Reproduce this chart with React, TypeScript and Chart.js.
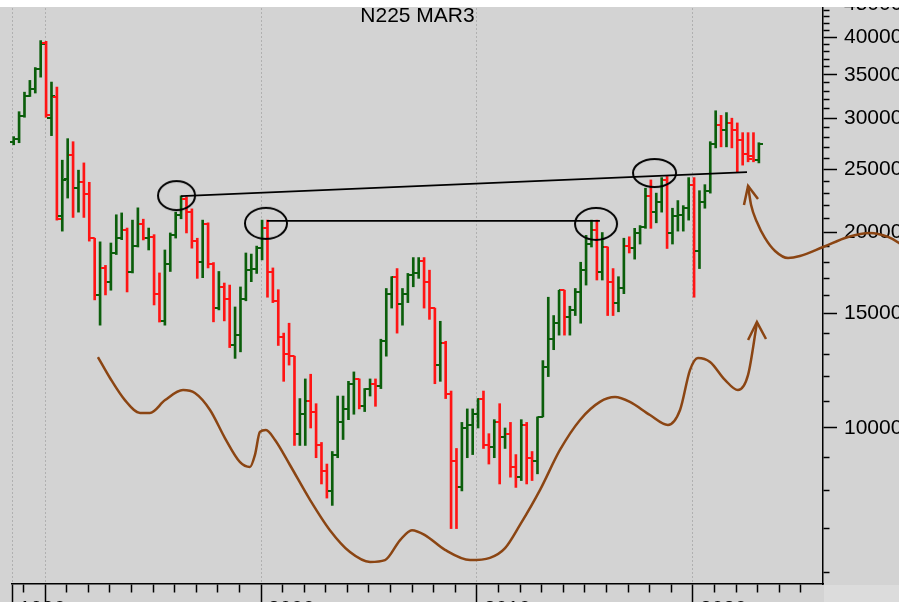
import React, { useEffect, useRef } from 'react';
import { Chart, registerables } from 'chart.js';

Chart.register(...registerables);

// ---------- DATA ----------
const TITLE = 'N225 MAR3';

const quarters = [
  '1988Q3', '1988Q4',
  '1989Q1', '1989Q2', '1989Q3', '1989Q4',
  '1990Q1', '1990Q2', '1990Q3', '1990Q4',
  '1991Q1', '1991Q2', '1991Q3', '1991Q4',
  '1992Q1', '1992Q2', '1992Q3', '1992Q4',
  '1993Q1', '1993Q2', '1993Q3', '1993Q4',
  '1994Q1', '1994Q2', '1994Q3', '1994Q4',
  '1995Q1', '1995Q2', '1995Q3', '1995Q4',
  '1996Q1', '1996Q2', '1996Q3', '1996Q4',
  '1997Q1', '1997Q2', '1997Q3', '1997Q4',
  '1998Q1', '1998Q2', '1998Q3', '1998Q4',
  '1999Q1', '1999Q2', '1999Q3', '1999Q4',
  '2000Q1', '2000Q2', '2000Q3', '2000Q4',
  '2001Q1', '2001Q2', '2001Q3', '2001Q4',
  '2002Q1', '2002Q2', '2002Q3', '2002Q4',
  '2003Q1', '2003Q2', '2003Q3', '2003Q4',
  '2004Q1', '2004Q2', '2004Q3', '2004Q4',
  '2005Q1', '2005Q2', '2005Q3', '2005Q4',
  '2006Q1', '2006Q2', '2006Q3', '2006Q4',
  '2007Q1', '2007Q2', '2007Q3', '2007Q4',
  '2008Q1', '2008Q2', '2008Q3', '2008Q4',
  '2009Q1', '2009Q2', '2009Q3', '2009Q4',
  '2010Q1', '2010Q2', '2010Q3', '2010Q4',
  '2011Q1', '2011Q2', '2011Q3', '2011Q4',
  '2012Q1', '2012Q2', '2012Q3', '2012Q4',
  '2013Q1', '2013Q2', '2013Q3', '2013Q4',
  '2014Q1', '2014Q2', '2014Q3', '2014Q4',
  '2015Q1', '2015Q2', '2015Q3', '2015Q4',
  '2016Q1', '2016Q2', '2016Q3', '2016Q4',
  '2017Q1', '2017Q2', '2017Q3', '2017Q4',
  '2018Q1', '2018Q2', '2018Q3', '2018Q4',
  '2019Q1', '2019Q2', '2019Q3', '2019Q4',
  '2020Q1', '2020Q2', '2020Q3', '2020Q4',
  '2021Q1', '2021Q2', '2021Q3', '2021Q4',
  '2022Q1', '2022Q2', '2022Q3', '2022Q4',
  '2023Q1',
];

const opens = [
  27600, 27900,
  30200, 32500, 33300, 35700,
  39200, 30000, 32300, 21200,
  24200, 26300, 23400, 23900,
  22900, 19600, 16000, 17640,
  16800, 18600, 19600, 20200,
  17400, 19100, 20600, 19600,
  19700, 16100, 14600, 17900,
  19800, 21300, 22500, 21500,
  19400, 18000, 20600, 17900,
  15300, 16500, 15800, 13400,
  13900, 15800, 17500, 17600,
  18900, 20300, 17400, 15700,
  13800, 13000, 12900, 9800,
  10500, 11000, 10600, 9400,
  8600, 8000, 9100, 10200,
  10700, 11700, 11900, 10800,
  11500, 11700, 11600, 13600,
  16100, 17100, 15500, 16100,
  17200, 17300, 18100, 16800,
  15300, 12500, 13500, 11300,
  8900, 8100, 10000, 10100,
  10500, 11100, 9400, 9350,
  10200, 9700, 9800, 8700,
  8400, 10100, 9000, 8900,
  10400, 12400, 13700, 14500,
  16300, 14800, 15200, 16200,
  17500, 19200, 20200, 17400,
  19000, 16800, 15600, 16400,
  19100, 18900, 20000, 20400,
  22800, 21500, 22300, 24100,
  20000, 21200, 21300, 21800,
  23700, 18700, 22300, 23200,
  27400, 29300, 28800, 29500,
  28800, 27800, 26400, 26200,
  25900,
];

const highs = [
  28100, 30700,
  32900, 34300, 35900, 39500,
  39400, 34100, 33500, 25850,
  27900, 27600, 24950, 25600,
  23900, 19600, 19350, 17800,
  19270, 21300, 21440, 20320,
  20900, 21830, 20970, 20320,
  19850, 17330, 18800, 19970,
  21500, 22780, 22700, 21750,
  19600, 20900, 20700, 17980,
  17420, 16720, 16600, 15360,
  16490, 18600, 18530, 19060,
  20900, 20900, 17640, 16330,
  14000, 14500, 12900, 11100,
  11900, 12100, 10900, 9500,
  8800, 9200, 11200, 11200,
  11800, 12200, 11900, 11500,
  11900, 11900, 13700, 16400,
  17100, 17600, 16400, 17300,
  18300, 18300, 18300, 17500,
  15300, 14600, 13600, 11400,
  9300, 10200, 10700, 10700,
  11100, 11400, 9800, 10300,
  10900, 10000, 10200, 9100,
  10300, 10200, 9200, 10400,
  12700, 15900, 14900, 16300,
  16300, 15400, 16400, 18000,
  19800, 20900, 20900, 20000,
  19000, 17600, 17100, 19600,
  19700, 20300, 20500, 23400,
  24100, 23000, 24300, 24400,
  21800, 22400, 22000, 24300,
  24300, 23200, 23700, 27600,
  30800, 30300, 30600, 30000,
  29500, 28500, 28500, 28500,
  27500,
];

const lows = [
  27300, 27500,
  30100, 32400, 32800, 34700,
  30100, 28200, 20900, 20100,
  22600, 21100, 21500, 21100,
  19400, 15750, 14400, 16030,
  16300, 18500, 19500, 16200,
  17330, 19000, 19480, 18800,
  15470, 14560, 14400, 17420,
  19610, 21000, 19970, 18920,
  17000, 17040, 17640, 14570,
  15200, 14620, 13300, 12800,
  13100, 15700, 16800, 17300,
  18150, 15900, 15600, 13400,
  11800, 12500, 9400, 9400,
  9400, 10000, 9000, 8200,
  7800, 7600, 9000, 9600,
  10300, 10500, 10700, 10600,
  11200, 10800, 11500, 12900,
  15300, 14000, 14400, 15600,
  16500, 17000, 15300, 14700,
  11700, 11800, 11100, 7000,
  7000, 8000, 9000, 9100,
  10000, 9300, 8800, 9000,
  8200, 9300, 8400, 8100,
  8300, 8200, 8300, 8500,
  10400, 12000, 13200, 13900,
  13900, 13900, 14900, 14500,
  16600, 19000, 16900, 16900,
  14900, 14900, 15100, 16100,
  18600, 18200, 19200, 20300,
  20300, 20700, 21500, 18900,
  19200, 20100, 20100, 20900,
  15900, 17600, 21800, 23000,
  27000, 27100, 27100, 27000,
  24800, 25400, 25700, 25700,
  25600,
];

const closes = [
  27900, 30200,
  32500, 33300, 35700, 39000,
  30300, 32500, 21000, 24100,
  26300, 23400, 23900, 22900,
  19600, 16030, 17640, 16800,
  18600, 19600, 20200, 17400,
  19100, 20600, 19600, 19700,
  16100, 14600, 17900, 19800,
  21300, 22500, 21500, 19400,
  18000, 20600, 17900, 15300,
  16500, 15800, 13400, 13900,
  15800, 17500, 17600, 18900,
  20300, 17400, 15700, 13800,
  13000, 12900, 9800, 10500,
  11000, 10600, 9400, 8600,
  8000, 9100, 10200, 10700,
  11700, 11900, 10800, 11500,
  11700, 11600, 13600, 16100,
  17100, 15500, 16100, 17200,
  17300, 18100, 16800, 15300,
  12500, 13500, 11300, 8900,
  8100, 10000, 10100, 10500,
  11100, 9400, 9350, 10200,
  9700, 9800, 8700, 8400,
  10100, 9000, 8900, 10400,
  12400, 13700, 14500, 16300,
  14800, 15200, 16200, 17500,
  19200, 20200, 17400, 19000,
  16800, 15600, 16400, 19100,
  18900, 20000, 20400, 22800,
  21500, 22300, 24100, 20000,
  21200, 21300, 21800, 23700,
  18700, 22300, 23200, 27400,
  29300, 28800, 29500, 28800,
  27800, 26400, 26000, 25900,
  27400,
];

// axis ticks / labels
const xTickYears = [
  1989, 1990, 1991, 1992, 1993, 1994, 1995, 1996, 1997, 1998, 1999,
  2000, 2001, 2002, 2003, 2004, 2005, 2006, 2007, 2008, 2009,
  2010, 2011, 2012, 2013, 2014, 2015, 2016, 2017, 2018, 2019,
  2020, 2021, 2022, 2023, 2024, 2025,
];
const xDecadeYears = [1990, 2000, 2010, 2020];
const xLabelYears = [2000, 2010, 2020];
const xStartLabel = '1990';

const yTickValues = [
  6000, 7000, 8000, 9000,
  10000, 11000, 12000, 13000, 14000, 15000, 16000, 17000, 18000, 19000,
  20000, 21000, 22000, 23000, 24000, 25000, 26000, 27000, 28000, 29000,
  30000, 31000, 32000, 33000, 34000, 35000, 36000, 37000, 38000, 39000,
  40000, 41000, 42000, 43000, 44000, 45000,
];
const yLabelValues = [10000, 15000, 20000, 25000, 30000, 35000, 40000, 45000];

// annotations (in data units: year, price)
const ellipseX = [1996.09, 2000.23, 2015.51, 2018.22];
const ellipseY = [22800, 20660, 20620, 24700];

const trendLine1X = [1996.3, 2022.5];
const trendLine1Y = [22760, 24780];
const trendLine2X = [2000.28, 2015.69];
const trendLine2Y = [20840, 20840];

const waveX = [
  1992.45, 1993.01, 1993.7, 1994.4, 1994.86, 1995.56, 1996.39, 1996.94, 1997.64,
  1998.33, 1999.03, 1999.49, 1999.72, 1999.95, 2000.23, 2000.65, 2001.34, 2002.27,
  2003.19, 2004.12, 2005.05, 2005.74, 2006.44, 2006.99, 2007.59, 2008.52, 2009.68,
  2010.6, 2011.3, 2011.99, 2012.92, 2013.84, 2014.77, 2015.69, 2016.39, 2017.08,
  2018.01, 2018.84, 2019.4, 2019.86, 2020.23, 2020.79, 2021.48, 2022.08, 2022.55,
  2022.96,
];
const waveY = [
  12860, 11940, 11040, 10550, 10550, 11040, 11440, 11320, 10660,
  9650, 8860, 8710, 9090, 9860, 9930, 9580, 8770, 7750,
  6960, 6440, 6220, 6260, 6720, 6960, 6840, 6490, 6260,
  6310, 6530, 7090, 8030, 9250, 10290, 10970, 11160, 10970,
  10470, 10110, 10660, 12280, 12820, 12640, 11860, 11440, 12070,
  14510,
];
const lowerArrowX = [2022.55, 2022.96, 2023.38];
const lowerArrowY = [13660, 14560, 13710];

const upperWaveX = [
  2022.55, 2022.69, 2022.96, 2023.33, 2023.8, 2024.4, 2024.95, 2026.02,
  2027.18, 2028.19, 2029.03, 2029.54, 2029.82,
];
const upperWaveY = [
  23590, 22050, 20760, 19620, 18730, 18270, 18400, 19000,
  19690, 19970, 19690, 19270, 18930,
];
const upperArrowX = [2022.36, 2022.55, 2023.01];
const upperArrowY = [22050, 23590, 22530];

// ---------- STYLE ----------
const X_MIN = 1988.472;
const X_MAX = 2026.019;
const Y_MIN = 5751;
const Y_MAX = 45618;
const BAR_SHIFT = 0.05;
const ELLIPSE_RADII = [
  [18.5, 14.5],
  [21, 15.5],
  [21, 16],
  [21.5, 14],
];
const BG = '#d3d3d3';
const CORNER = '#dcdcdc';
const GREEN = '#0b5e0b';
const RED = '#ff1414';
const BROWN = '#8b4513';
const FONT = '"Liberation Sans", Arial, Helvetica, sans-serif';

function quarterTime(q: string): number {
  const year = Number(q.slice(0, 4));
  const qn = Number(q.slice(5));
  return year + (qn - 1) / 4 + BAR_SHIFT;
}

function tickImage(color: string, left: boolean): HTMLCanvasElement {
  const c = document.createElement('canvas');
  c.width = 8;
  c.height = 2;
  const ctx = c.getContext('2d')!;
  ctx.fillStyle = color;
  ctx.fillRect(left ? 0 : 4, 0, 4, 2);
  return c;
}

function ellipseImage(rx: number, ry: number): HTMLCanvasElement {
  const c = document.createElement('canvas');
  c.width = Math.ceil(rx * 2 + 4);
  c.height = Math.ceil(ry * 2 + 4);
  const ctx = c.getContext('2d')!;
  ctx.strokeStyle = '#000';
  ctx.lineWidth = 2;
  ctx.beginPath();
  ctx.ellipse(c.width / 2, c.height / 2, rx, ry, 0, 0, Math.PI * 2);
  ctx.stroke();
  return c;
}

const decorPlugin = {
  id: 'decor',
  beforeDraw(chart: any) {
    const { ctx, width, height, chartArea } = chart;
    ctx.save();
    ctx.fillStyle = BG;
    ctx.fillRect(0, 0, width, height);
    ctx.fillStyle = CORNER;
    ctx.fillRect(chartArea.right + 1, chartArea.bottom + 1, width, height);
    ctx.restore();
  },
  afterDraw(chart: any) {
    const { ctx, width, chartArea } = chart;
    ctx.save();
    ctx.font = `21px ${FONT}`;
    ctx.fillStyle = '#000';
    ctx.textAlign = 'center';
    ctx.textBaseline = 'alphabetic';
    ctx.fillText(TITLE, (chartArea.left + chartArea.right) / 2, 22);
    ctx.fillStyle = '#ffffff';
    ctx.fillRect(0, 0, width, 7);
    ctx.restore();
  },
};

export default function App() {
  const canvasRef = useRef<HTMLCanvasElement>(null);

  useEffect(() => {
    document.body.style.margin = '0';
    const canvas = canvasRef.current!;
    const times = quarters.map(quarterTime);
    const up = closes.map((c, i) => c >= opens[i]);
    const leftG = tickImage(GREEN, true);
    const leftR = tickImage(RED, true);
    const rightG = tickImage(GREEN, false);
    const rightR = tickImage(RED, false);
    const ellipses = ELLIPSE_RADII.map(([rx, ry]) => ellipseImage(rx, ry));
    const pts = (xs: number[], ys: number[]) => xs.map((x, i) => ({ x, y: ys[i] }));
    const isDecade = (v: number) => xDecadeYears.includes(v) || Math.abs(v - X_MIN) < 1e-6;

    const brownLine = (label: string, xs: number[], ys: number[], smooth: boolean, clip: boolean) =>
      ({
        type: 'line',
        label,
        data: pts(xs, ys),
        borderColor: BROWN,
        borderWidth: 2.5,
        pointRadius: 0,
        ...(smooth ? { cubicInterpolationMode: 'monotone' } : { tension: 0 }),
        fill: false,
        ...(clip ? {} : { clip: false }),
        order: 0,
      }) as any;

    const chart = new Chart(canvas, {
      type: 'bar',
      data: {
        datasets: [
          brownLine('wave', waveX, waveY, true, true),
          brownLine('lower arrow', lowerArrowX, lowerArrowY, false, true),
          brownLine('upper wave', upperWaveX, upperWaveY, true, false),
          brownLine('upper arrow', upperArrowX, upperArrowY, false, true),
          {
            type: 'line',
            label: 'trend 1',
            data: pts(trendLine1X, trendLine1Y),
            borderColor: '#000',
            borderWidth: 1.8,
            pointRadius: 0,
            tension: 0,
            fill: false,
            order: 0,
          } as any,
          {
            type: 'line',
            label: 'trend 2',
            data: pts(trendLine2X, trendLine2Y),
            borderColor: '#000',
            borderWidth: 1.8,
            pointRadius: 0,
            tension: 0,
            fill: false,
            order: 0,
          } as any,
          {
            type: 'scatter',
            label: 'circles',
            data: pts(ellipseX, ellipseY),
            pointStyle: ellipses,
            pointRadius: 10,
            order: 0,
          } as any,
          {
            type: 'scatter',
            label: 'open',
            data: pts(times, opens),
            pointStyle: up.map((u) => (u ? leftG : leftR)),
            pointRadius: 3,
            order: 1,
          } as any,
          {
            type: 'scatter',
            label: 'close',
            data: pts(times, closes),
            pointStyle: up.map((u) => (u ? rightG : rightR)),
            pointRadius: 3,
            order: 1,
          } as any,
          {
            type: 'bar',
            label: 'range',
            data: times.map((t, i) => ({ x: t, y: [lows[i], highs[i]] })),
            backgroundColor: up.map((u) => (u ? GREEN : RED)),
            borderWidth: 0,
            barThickness: 2,
            order: 2,
          } as any,
        ],
      },
      options: {
        responsive: false,
        animation: false,
        devicePixelRatio: 1,
        events: [],
        layout: { autoPadding: false, padding: { left: 12, top: 0, right: 0, bottom: 0 } },
        plugins: {
          legend: { display: false },
          tooltip: { enabled: false },
          title: { display: false },
        },
        scales: {
          x: {
            type: 'linear',
            position: 'bottom',
            bounds: 'data',
            offset: false,
            afterDataLimits: (s: any) => {
              s.min = X_MIN;
              s.max = X_MAX;
            },
            afterBuildTicks: (s: any) => {
              s.ticks = [X_MIN, ...xTickYears].map((v) => ({ value: v }));
            },
            afterFit: (s: any) => {
              s.height = 18;
              s.paddingLeft = 0;
              s.paddingRight = 0;
            },
            grid: {
              offset: false,
              drawOnChartArea: true,
              color: (ctx: any) => (ctx.tick && isDecade(ctx.tick.value) ? '#b0b0b0' : 'rgba(0,0,0,0)'),
              lineWidth: 1,
              drawTicks: true,
              tickLength: 18,
              tickColor: '#000',
              tickWidth: 1.5,
              tickBorderDash: (ctx: any) => (ctx.tick && isDecade(ctx.tick.value) ? [] : [8, 100]),
            },
            border: { display: true, color: '#000', width: 1.5, dash: [2, 2] },
            ticks: {
              autoSkip: false,
              maxRotation: 0,
              minRotation: 0,
              align: 'start',
              labelOffset: 7,
              padding: -5,
              color: '#000',
              font: { family: FONT, size: 21 },
              callback: (v: any) => {
                const n = Number(v);
                if (Math.abs(n - X_MIN) < 1e-6) return xStartLabel;
                return xLabelYears.includes(n) ? String(n) : '';
              },
            },
          },
          y: {
            type: 'logarithmic',
            position: 'right',
            min: Y_MIN,
            max: Y_MAX,
            bounds: 'data',
            afterBuildTicks: (s: any) => {
              s.ticks = yTickValues.map((v) => ({ value: v }));
            },
            afterFit: (s: any) => {
              s.width = 76;
              s.paddingTop = 0;
              s.paddingBottom = 0;
            },
            grid: {
              drawOnChartArea: false,
              drawTicks: true,
              tickLength: 14,
              tickColor: '#000',
              tickWidth: 1.5,
              tickBorderDash: (ctx: any) =>
                ctx.tick && yLabelValues.includes(ctx.tick.value) ? [] : [6, 100],
            },
            border: { display: true, color: '#000', width: 1.5 },
            ticks: {
              autoSkip: false,
              padding: 7,
              color: '#000',
              font: { family: FONT, size: 21 },
              callback: (v: any) => (yLabelValues.includes(Number(v)) ? String(v) : ''),
            },
          },
        },
      } as any,
      plugins: [decorPlugin],
    });
    return () => chart.destroy();
  }, []);

  return (
    <div style={{ width: 899, height: 602, overflow: 'hidden', background: '#fff' }}>
      <canvas ref={canvasRef} width={899} height={602} style={{ display: 'block' }} />
    </div>
  );
}
